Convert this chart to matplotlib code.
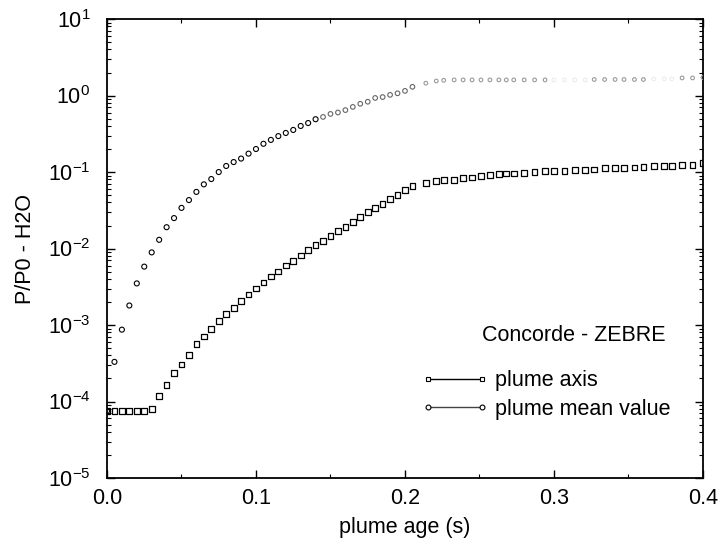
import numpy as np
import matplotlib
matplotlib.use('Agg')
import matplotlib.pyplot as plt
from matplotlib.lines import Line2D
from matplotlib.ticker import MultipleLocator, FormatStrFormatter, LogLocator

plt.rcParams['font.family'] = ['Liberation Sans', 'DejaVu Sans']
plt.rcParams['mathtext.default'] = 'regular'

# plume axis (squares)
axis_t = [0.0, 0.005, 0.01, 0.015, 0.02, 0.025, 0.03, 0.035, 0.04, 0.045,
          0.05, 0.055, 0.06, 0.065, 0.07, 0.075, 0.08, 0.085, 0.09, 0.095,
          0.1, 0.105, 0.11, 0.115, 0.12, 0.125, 0.13, 0.135, 0.14, 0.145,
          0.15, 0.155, 0.16, 0.165, 0.17, 0.175, 0.18, 0.185, 0.19, 0.195,
          0.2, 0.205,
          0.214, 0.221, 0.226, 0.233, 0.239, 0.245, 0.251, 0.257, 0.263, 0.268,
          0.273, 0.28, 0.287, 0.294, 0.3, 0.307, 0.314, 0.321, 0.327, 0.334,
          0.341, 0.347, 0.354, 0.36, 0.367, 0.374, 0.379, 0.386, 0.393, 0.4]
axis_p = [7.5e-5, 7.5e-5, 7.5e-5, 7.5e-5, 7.5e-5, 7.5e-5, 8.0e-5, 1.18e-4, 1.63e-4, 2.38e-4,
          3.05e-4, 4.1e-4, 5.6e-4, 7.1e-4, 8.9e-4, 1.12e-3, 1.40e-3, 1.67e-3, 2.04e-3, 2.5e-3,
          3.0e-3, 3.6e-3, 4.3e-3, 5.0e-3, 6.0e-3, 6.9e-3, 8.1e-3, 9.5e-3, 0.011, 0.0125,
          0.0146, 0.017, 0.019, 0.022, 0.026, 0.030, 0.034, 0.038, 0.044, 0.050,
          0.058, 0.066,
          0.072, 0.076, 0.079, 0.079, 0.083, 0.085, 0.089, 0.091, 0.094, 0.096,
          0.096, 0.098, 0.101, 0.104, 0.104, 0.104, 0.106, 0.106, 0.108, 0.112,
          0.112, 0.112, 0.115, 0.117, 0.12, 0.121, 0.121, 0.123, 0.123, 0.13]

# plume mean value (circles)
mean_t = axis_t
mean_p = [7.5e-5, 3.3e-4, 8.7e-4, 1.8e-3, 3.5e-3, 5.8e-3, 8.9e-3, 0.013, 0.019, 0.025,
          0.034, 0.043, 0.055, 0.069, 0.081, 0.10, 0.12, 0.135, 0.15, 0.174,
          0.20, 0.234, 0.263, 0.295, 0.324, 0.355, 0.40, 0.437, 0.49, 0.525,
          0.575, 0.60, 0.645, 0.71, 0.78, 0.83, 0.93, 0.955, 1.02, 1.07,
          1.15, 1.3,
          1.45, 1.55, 1.58, 1.6, 1.6, 1.6, 1.6, 1.6, 1.6, 1.6,
          1.6, 1.6, 1.6, 1.6, 1.6, 1.6, 1.6, 1.6, 1.62, 1.62,
          1.62, 1.62, 1.62, 1.62, 1.65, 1.65, 1.65, 1.7, 1.7, 1.72]

fig = plt.figure(figsize=(7.21, 5.47), dpi=100)
ax = fig.add_axes([0.1484, 0.1261, 0.8266, 0.8391])

ax.scatter(axis_t, axis_p, marker='s', s=17, facecolors='none',
           edgecolors='black', linewidths=0.9, zorder=3)

# the scanned mean-value curve fades out towards large ages
cols, sizes = [], []
for t in mean_t:
    if t < 0.145:
        cols.append('black'); sizes.append(13)
    elif t <= 0.205:
        cols.append('#666666'); sizes.append(11)
    elif 0.298 < t < 0.325 or 0.362 < t < 0.382:
        cols.append('#ececec'); sizes.append(7)
    else:
        cols.append('#9a9a9a'); sizes.append(7)
ax.scatter(mean_t, mean_p, marker='o', s=sizes, facecolors='none',
           edgecolors=cols, linewidths=0.8, zorder=3)

ax.set_yscale('log')
ax.set_ylim(1e-5, 1e1)
ax.set_xlim(0, 0.4)
ax.xaxis.set_major_locator(MultipleLocator(0.1))
ax.xaxis.set_minor_locator(MultipleLocator(0.05))
ax.xaxis.set_major_formatter(FormatStrFormatter('%.1f'))
ax.yaxis.set_major_locator(LogLocator(base=10, numticks=10))
ax.yaxis.set_minor_locator(LogLocator(base=10, subs=np.arange(2, 10), numticks=20))

ax.tick_params(which='both', direction='in', top=True, right=True, labelsize=15.5)
ax.tick_params(which='major', length=6, width=1)
ax.tick_params(which='minor', length=3, width=0.8)
ax.tick_params(axis='x', which='major', pad=7)
ax.tick_params(axis='y', which='major', pad=12)
for sp in ax.spines.values():
    sp.set_linewidth(1.3)

ax.set_xlabel('plume age (s)', fontsize=15.5, labelpad=6)
ax.set_ylabel('P/P0 - H2O', fontsize=15.5, labelpad=8)

handles = [
    Line2D([], [], color='black', lw=1, marker='s', ms=3.5, mfc='white', mec='black', mew=0.8),
    Line2D([], [], color='#444444', lw=1, marker='o', ms=3.5, mfc='white', mec='black', mew=0.8),
]
ax.legend(handles, ['plume axis', 'plume mean value'], loc='center left',
          bbox_to_anchor=(0.528, 0.181), numpoints=2, frameon=False,
          fontsize=15.5, handlelength=3.1, handletextpad=0.3, labelspacing=0.34,
          borderpad=0, borderaxespad=0)
ax.text(0.783, 0.3115, 'Concorde - ZEBRE', transform=ax.transAxes,
        ha='center', va='center', fontsize=15.5)

fig.savefig('out.png', dpi=100)
